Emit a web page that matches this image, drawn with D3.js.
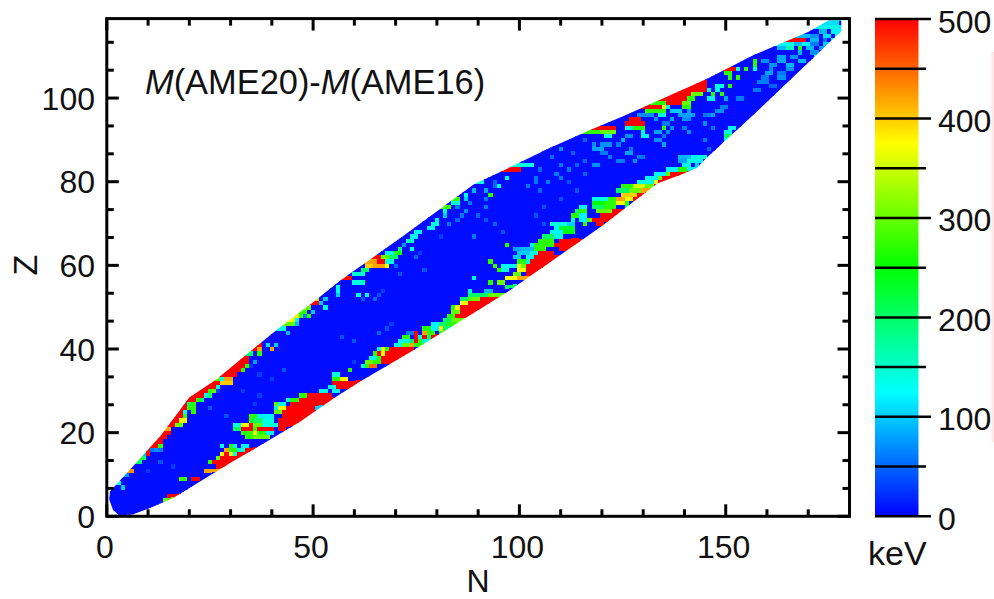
<!DOCTYPE html>
<html><head><meta charset="utf-8">
<script src="https://cdn.jsdelivr.net/npm/d3@7"></script>
<style>html,body{margin:0;padding:0;background:#fff}svg{display:block}text{font-family:"Liberation Sans",Arial,sans-serif;fill:#111}</style>
</head><body><svg id="c" width="994" height="599"></svg>
<script>
const xTicksMajor=[0,50,100,150];
const yTicksMajor=[0,20,40,60,80,100];
const cbTicksMajor=[0,100,200,300,400,500];
const cbTicksMinor=[50,150,250,350,450];
const colorStops=["#0000ff","#00ffff","#00ff00","#ffff00","#ff0000"];
const stopValues=[0,125,250,375,500];
const baseValue=4;
const outline=[[1.5,1.5],[0.6,4],[0.8,6],[5,10.5],[13,19.2],[20,28.4],[26.7,32.8],[34,38.8],[42,45.2],[50,51.2],[56.6,56.4],[71,66.4],[89,79.4],[96,82.6],[106.8,87.8],[117,92.3],[125,95.6],[145.5,104.6],[156.8,110.3],[170,115.8],[175,118.6],[178,118.6],[178,116],[157.7,96.9],[145,85.4],[143,83.3],[140,82],[133.4,79.6],[120,69.4],[97,53.6],[74,39.5],[61.5,32.3],[55,28.2],[47,22.7],[39,18],[30.7,13.2],[22.7,8.4],[16,4.3],[10,1.8],[6.4,0.5],[3,0.3]];
// row extent of measured nuclei, index 0 is Z=1
const nMin=[3,2,1,1,1,1,2,3,4,5,6,7,8,8,9,10,11,12,13,14,15,15,16,17,18,18,19,20,22,23,25,26,27,29,30,31,32,33,34,36,37,39,40,41,42,43,45,46,47,49,50,51,52,53,55,56,58,59,61,62,64,65,67,68,70,71,72,74,75,76,78,79,81,82,83,85,86,87,89,91,93,96,99,102,104,105,106,107,110,112,115,117,120,122,125,127,129,131,134,136,138,140,143,145,147,149,151,153,155,157,159,162,165,167,170,172,174,175];
const nMax=[7,10,12,15,17,18,20,21,23,25,27,28,30,32,33,35,37,38,40,42,44,45,47,48,50,51,53,54,56,57,59,60,62,64,66,67,69,71,73,75,76,78,79,81,82,84,85,87,89,90,92,93,95,97,98,99,101,102,103,105,106,107,109,110,111,112,114,115,116,121,122,124,125,127,128,129,130,131,133,135,138,140,142,144,145,146,147,149,150,151,152,154,155,156,157,158,159,160,162,163,164,165,166,167,168,169,170,171,172,173,174,175,176,177,177,177,178,178];
// [Z, first N, last N, keV]
const hotRuns=[
[11,5,6,430],[13,7,8,200],[14,8,9,270],[15,9,10,500],[16,10,11,500],[16,12,12,70],[17,11,12,500],[17,13,13,270],[18,12,13,500],[19,13,14,500],[20,14,15,500],[21,15,15,420],[22,15,16,500],[22,17,17,300],[23,16,17,500],[23,18,18,370],[24,17,18,500],[25,18,18,500],[26,18,19,500],[26,20,21,270],[27,19,19,500],[27,20,21,270],[28,20,21,500],[28,22,22,270],[29,22,23,500],[29,24,24,140],[30,23,24,500],[30,25,25,270],[30,26,26,300],[31,25,26,500],[31,27,27,140],[32,26,27,500],[32,28,30,400],[33,27,27,300],[33,28,28,140],[33,29,30,420],[34,29,31,500],[35,30,32,500],[35,33,33,270],[36,31,33,500],[36,34,34,270],[37,32,34,500],[38,33,34,500],[39,34,35,200],[40,36,36,500],[40,37,37,420],[41,37,37,500],[45,42,43,140],[46,43,45,300],[47,45,45,370],[48,46,46,370],[48,47,47,270],[48,48,48,140],[48,49,49,270],[49,47,48,270],[50,48,49,300],[51,50,51,500],[52,51,51,400],
[5,15,17,500],[4,14,15,300],[9,18,19,280],[9,21,22,500],[11,24,27,420],
[12,27,30,500],[13,26,31,500],[13,25,25,270],[14,27,27,300],[14,28,33,500],[15,28,28,370],[15,29,29,500],[15,30,30,370],[15,31,31,140],[15,32,35,500],[16,29,29,420],[16,30,31,270],[16,32,33,140],[16,34,36,500],[17,28,28,140],[17,30,30,270],[17,31,31,120],[17,33,34,120],
[19,34,35,270],[19,36,39,300],[20,33,35,270],[20,36,36,370],[20,37,38,270],[20,39,40,120],[21,33,40,500],[21,31,32,200],[21,36,36,270],[22,31,32,140],[22,33,34,370],[22,35,35,500],[22,36,37,300],[22,38,41,140],[23,35,35,270],[23,36,37,200],[23,38,40,140],[24,35,36,270],[24,37,40,120],
[21,42,43,500],[22,42,45,500],[23,42,47,500],[24,43,48,500],[25,43,50,500],[26,44,51,500],[27,45,53,500],[28,47,54,500],[29,49,54,500],[26,51,51,100],[27,42,43,140],[27,41,41,300],[26,41,41,140],[26,42,43,370],[28,45,46,270],[29,47,48,270],[28,44,44,140],[25,41,42,300],
[30,52,53,140],[30,55,56,120],[31,54,55,140],[31,56,60,500],[32,55,62,500],[33,55,56,270],[33,57,58,370],[34,55,56,140],
[35,59,59,270],[35,64,67,4],[36,62,62,140],[36,63,63,270],[36,64,65,450],[37,63,64,300],[37,65,66,270],[37,67,70,500],[38,64,65,140],[38,66,66,270],[38,67,71,500],[39,65,65,270],[39,66,66,500],[39,67,67,370],[39,68,73,500],[40,66,66,140],[40,67,67,370],[40,68,68,270],[40,69,74,500],[41,70,71,140],[41,72,73,300],[41,74,74,420],[41,75,76,270],[42,71,73,140],[42,74,74,200],[42,75,75,500],[42,76,76,270],[42,77,78,140],[43,72,73,270],[43,75,75,500],[43,76,76,140],[43,77,77,500],[43,78,78,200],[43,79,79,500],[43,80,81,270],[44,73,74,60],[44,75,75,500],[44,77,77,420],[44,78,79,270],[44,81,82,270],[45,77,78,270],[45,79,80,120],[45,81,81,370],[45,82,82,200],[46,79,80,120],[46,81,82,200],
[46,83,84,270],[46,85,85,400],[47,82,83,200],[47,84,85,300],[47,86,86,500],[48,83,84,270],[48,85,87,500],[49,84,85,300],[49,86,89,500],[50,85,85,370],[50,86,91,500],[50,84,84,270],[51,86,87,370],[51,88,92,500],[52,86,87,200],[52,88,90,300],[52,91,94,500],[53,88,92,200],[53,93,95,300],
[54,88,88,140],[54,92,93,90],[56,93,93,270],[57,89,89,140],[55,97,98,200],[56,95,96,300],[57,97,99,370],[58,99,100,300],[57,100,101,420],
[58,102,103,500],[59,102,105,500],[60,102,106,500],[61,103,108,500],[62,104,109,500],[63,105,108,500],[60,100,100,370],[60,101,101,300],[59,100,101,370],[61,100,101,270],[61,102,102,140],[62,99,100,100],[62,102,103,120],[63,100,102,100],[63,103,104,140],[64,100,103,90],[64,104,106,270],[65,104,108,270],[65,103,103,120],[66,105,108,270],[67,106,108,200],[59,96,97,140],[60,94,94,270],[60,96,96,140],[61,93,93,270],[60,97,99,120],[59,95,95,270],[65,97,97,270],[64,99,100,80],
[64,110,113,500],[65,109,113,500],[66,110,112,500],[67,109,110,140],[68,108,110,120],[68,111,113,250],[69,110,113,230],[69,109,109,120],[70,108,111,140],[70,112,113,100],[71,113,113,140],[72,113,114,270],[72,115,116,120],[73,115,116,270],[73,114,114,200],[71,115,116,120],[70,116,116,270],[71,118,119,500],[71,117,117,300],[74,115,116,120],
[70,119,120,500],[71,120,123,500],[72,120,124,500],[73,123,125,500],[73,119,122,300],[74,118,120,200],[74,121,123,270],[75,118,120,250],[75,121,123,270],[75,124,125,370],[75,126,126,270],[76,118,121,140],[76,122,123,270],[76,124,125,420],[76,126,127,370],[76,128,132,500],[75,128,131,500],[77,129,130,500],[77,125,128,400],[77,131,132,400],[78,124,126,200],[78,127,129,300],[78,130,131,420],[78,132,133,500],[79,125,127,270],[79,128,130,350],[79,131,132,300],[79,133,136,500],[80,129,132,140],[80,133,133,370],[80,134,137,500],[81,131,133,120],[81,134,134,300],[81,135,138,500],[82,133,135,120],[82,136,136,300],[82,137,140,500],[83,136,138,120],[83,139,140,270],[83,141,142,120],[74,126,127,200],
[84,140,141,120],[84,143,143,100],[85,141,142,140],[85,143,144,120],[86,143,145,140],
[53,61,61,140],[53,63,63,140],[55,56,56,140],[54,56,56,140],[53,56,56,100],[57,58,59,500],[56,60,61,140],[56,62,62,160],[58,60,62,150],[59,62,63,200],[60,63,64,400],[60,65,67,420],[60,68,68,370],[61,64,65,420],[61,66,67,500],[61,68,69,140],[62,65,66,500],[62,67,68,300],[62,69,70,200],[63,68,69,140],[63,70,71,260],[64,71,71,200],[64,74,74,140],[65,72,72,70],[66,73,74,150],[67,74,75,120],[68,75,76,120],[69,78,79,120],[70,79,80,140],[71,80,80,120],[72,82,82,100],[73,82,82,160],[74,82,83,280],[75,84,85,150],[76,85,85,270],[76,87,87,100],[77,87,87,130],[77,93,93,270],[78,89,89,90],[79,95,95,140],[80,91,91,140],[81,97,97,140],[67,89,89,60],[65,97,97,270],[83,98,100,500],[84,102,103,140],
[92,117,119,270],[93,119,123,500],[92,120,123,300],[91,121,122,140],[93,117,118,270],[94,126,130,500],[95,127,129,500],[93,126,127,140],[93,128,129,270],[93,130,130,270],[92,130,130,120],[91,130,131,120],[93,135,135,270],[96,129,132,70],
[97,131,132,270],[98,131,134,500],[97,133,135,270],[99,136,139,500],[96,134,135,140],[100,135,140,500],[99,134,135,270],[98,135,135,370],[98,140,141,270],[98,136,136,140],[99,140,141,300],[100,141,142,270],[101,137,141,500],[101,142,144,300],[102,138,145,500],[102,146,146,120],[103,141,145,500],[104,143,145,500],[97,137,139,100],[96,139,142,80],
[107,150,152,500],[106,150,151,270],[105,151,151,270],[105,153,153,270],[107,153,153,140],[107,155,155,270],[108,157,157,270],[109,157,157,270],[107,157,157,140],[103,148,149,140],[103,151,151,270],[101,147,147,270],[101,149,149,270],[102,148,148,120],[100,146,147,120],[100,150,150,80],
[114,166,169,500],[115,170,170,90],[113,165,166,130],[113,167,168,90],[113,169,170,120],[112,163,164,90],[112,165,166,160],[112,168,168,270],[112,170,171,90],
[118,175,177,110],[117,174,175,120],[117,176,177,140],[117,178,178,110],[116,173,174,90],[116,176,178,120],[115,171,172,70],[115,174,175,110],[115,177,177,120],[114,171,172,90],[114,174,174,60],[114,176,177,150],[113,171,172,60],[113,174,175,100],[112,173,175,80],[111,168,168,90],[111,171,172,70],[110,163,164,80],[110,166,167,70],[110,172,172,120],[109,159,160,70],[109,163,164,80],[109,168,169,90],[108,161,162,70],[108,165,166,90],[107,161,161,70],[107,165,166,70],[106,160,161,80],[106,163,164,60],[105,159,160,60],[105,163,164,70],[104,158,160,60],[103,161,162,50],[102,157,158,60],[100,153,154,60],
[93,151,152,120],[92,150,151,140],[91,150,152,200],[91,153,153,100],[90,150,151,120],[90,152,152,260],[89,151,151,130],
[86,142,142,120],[86,139,141,90],[85,139,140,80],
[89,135,135,80],[90,133,134,70],[91,126,127,70],[90,125,125,90],[89,120,122,70],[88,118,120,80],[89,118,118,70],[87,120,121,60],[84,118,119,70],[85,124,125,60],[86,129,130,60],[87,126,127,80],[91,135,135,60],[92,136,136,70],[92,133,134,80],[94,135,136,60],[95,140,141,70],[96,145,146,60],[97,148,149,70],[98,149,150,60]
];
// single lighter cells scattered through the band: [Z, N, keV]
const scatter=[
[8,3,130],[9,3,150],[7,4,100],[10,5,70],[14,8,270],[14,9,200],[13,7,120],[15,9,90],[17,13,270],[16,11,60],[16,13,60],[13,13,40],[12,16,30],[11,10,30],
[25,19,140],[24,19,270],[23,19,370],[22,18,300],[27,20,200],[25,21,270],[26,25,40],[28,23,200],[29,25,200],[30,27,30],[37,36,80],[39,37,270],[40,40,420],[41,39,110],[41,41,100],[44,44,90],[48,48,60],[49,50,100],[50,53,120],[47,46,120],[46,46,90],[51,52,100],[52,53,100],
[36,35,30],[34,37,30],[35,43,40],[33,40,30],[30,33,30],[29,37,30],[27,36,30],[24,29,40],
[37,60,30],[42,60,40],[43,57,40],[44,66,50],[45,68,40],[46,69,30],[52,62,40],[53,66,40],[52,65,50],[54,67,30],[58,71,40],[60,70,50],[62,75,50],[63,76,30],[59,77,40],[67,81,30],[70,83,60],[72,86,60],[71,85,50],[73,87,70],[74,85,60],[75,88,60],[76,92,60],[74,92,60],[78,92,80],[79,94,50],[80,94,50],[72,90,50],[71,92,40],[70,94,50],[68,96,40],
[81,104,60],[80,104,60],[80,107,60],[81,110,60],[79,102,60],[78,105,50],[82,109,60],[83,112,60],[84,110,60],[84,114,50],[83,105,50],
[86,108,50],[88,110,70],[87,113,50],[85,116,50],[82,116,50],[80,112,40],[78,114,40],[76,110,40],[74,106,40],[72,104,40],[70,106,40],[90,116,50],[89,124,60],[88,127,60],[86,122,60],[85,128,70],[93,137,70],[95,137,80],[95,133,70],[93,140,60],[92,141,70],[97,141,80],[96,147,80],[94,145,70],[93,147,60],[90,145,60],[88,146,50],[86,149,40]
];
const x=d3.scaleLinear().domain([0,180]).range([106.8,849.5]);
const y=d3.scaleLinear().domain([0,119]).range([516.3,18.6]);
const cb=d3.scaleLinear().domain([0,500]).range([516.3,19]);
const color=d3.scaleLinear().domain(stopValues).range(colorStops).clamp(true);
const svg=d3.select("#c");
const defs=svg.append("defs");
defs.append("filter").attr("id","soft").attr("x","-2%").attr("y","-2%").attr("width","104%").attr("height","104%")
  .append("feGaussianBlur").attr("stdDeviation",0.7);
const grad=defs.append("linearGradient").attr("id","cbg").attr("x1",0).attr("x2",0).attr("y1",1).attr("y2",0);
stopValues.forEach((v,i)=>grad.append("stop").attr("offset",v/500).attr("stop-color",colorStops[i]));
const pink=defs.append("linearGradient").attr("id","pink");
pink.append("stop").attr("offset",0).attr("stop-color","#fff");
pink.append("stop").attr("offset",1).attr("stop-color","#ffe2e2");
defs.append("clipPath").attr("id","frame").append("rect").attr("x",106.8).attr("y",18.6).attr("width",742.7).attr("height",497.7);
defs.append("clipPath").attr("id","band").append("path")
  .attr("d",d3.line().x(d=>x(d[0])).y(d=>y(d[1]))(outline)+"Z");

const values=new Map();
nMin.forEach((a,i)=>{for(let n=a;n<=nMax[i];n++)values.set((i+1)+"_"+n,baseValue);});
const put=(z,n,v)=>{const k=z+"_"+n;if(values.has(k))values.set(k,v);};
hotRuns.forEach(([z,a,b,v])=>{for(let n=a;n<=b;n++)put(z,n,v);});
scatter.forEach(([z,n,v])=>put(z,n,v));
// rows are padded by a few cells so that the outline, not the row end, shapes the edge
nMin.forEach((a,i)=>{const z=i+1,b=nMax[i];for(let p=1;p<=4;p++){values.set(z+"_"+(a-p),values.get(z+"_"+a));values.set(z+"_"+(b+p),values.get(z+"_"+b));}});
for(let n=0;n<=12;n++)values.set("0_"+n,baseValue);
for(let n=170;n<=182;n++)values.set("119_"+n,100);
const cells=[...values].map(([k,v])=>{const [z,n]=k.split("_").map(Number);return{z,n,v};});

const plot=svg.append("g").attr("clip-path","url(#frame)").append("g").attr("filter","url(#soft)").append("g").attr("clip-path","url(#band)");
plot.selectAll("rect").data(cells).join("rect")
  .attr("x",d=>x(d.n-0.5)).attr("y",d=>y(d.z+0.5))
  .attr("width",x(1)-x(0)+0.4).attr("height",y(0)-y(1)+0.4)
  .attr("fill",d=>color(d.v)).attr("shape-rendering","crispEdges");

function ticks(g,vals,len,dir,horizontal,pos,sw){
  g.selectAll(null).data(vals).join("line")
   .attr("x1",d=>horizontal?x(d):pos).attr("x2",d=>horizontal?x(d):pos+dir*len)
   .attr("y1",d=>horizontal?pos:y(d)).attr("y2",d=>horizontal?pos+dir*len:y(d))
   .attr("stroke","#000").attr("stroke-width",sw);
}
const a=svg.append("g");
const xMinor=d3.range(0,181,10).filter(d=>d%50!==0);
const yMinor=d3.range(0,120,20/3).filter((d,i)=>i%3!==0);
ticks(a,xMinor,7,-1,true,516.3,3);ticks(a,xMinor,7,1,true,18.6,3);
ticks(a,xTicksMajor,12,-1,true,516.3,3);ticks(a,xTicksMajor,12,1,true,18.6,3);
ticks(a,yMinor,7,1,false,106.8,3);ticks(a,yMinor,7,-1,false,849.5,3);
ticks(a,yTicksMajor,12,1,false,106.8,3);ticks(a,yTicksMajor,12,-1,false,849.5,3);
a.append("rect").attr("x",106.8).attr("y",18.6).attr("width",742.7).attr("height",497.7).attr("fill","none").attr("stroke","#000").attr("stroke-width",3);
a.selectAll(null).data(xTicksMajor).join("text").attr("x",d=>x(d)-2).attr("y",558).attr("text-anchor","middle").attr("font-size",32).text(d=>d);
a.selectAll(null).data(yTicksMajor).join("text").attr("x",95).attr("y",d=>y(d)+11.5).attr("text-anchor","end").attr("font-size",32).text(d=>d);
a.append("text").attr("x",478).attr("y",592).attr("text-anchor","middle").attr("font-size",32).text("N");
a.append("text").attr("transform","translate(37,265) rotate(-90)").attr("text-anchor","middle").attr("font-size",34).text("Z");
const title=a.append("text").attr("x",145).attr("y",94).attr("font-size",34.4);
title.append("tspan").attr("font-style","italic").text("M");
title.append("tspan").text("(AME20)-");
title.append("tspan").attr("font-style","italic").text("M");
title.append("tspan").text("(AME16)");

const c=svg.append("g");
c.append("rect").attr("x",990).attr("y",52).attr("width",4).attr("height",390).attr("fill","url(#pink)");
c.append("rect").attr("x",875).attr("y",19).attr("width",43.5).attr("height",497.3).attr("fill","url(#cbg)");
c.selectAll(null).data(cbTicksMajor).join("line").attr("x1",875).attr("x2",931).attr("y1",d=>cb(d)).attr("y2",d=>cb(d)).attr("stroke","#000").attr("stroke-width",2.5);
c.selectAll(null).data(cbTicksMinor).join("line").attr("x1",875).attr("x2",926).attr("y1",d=>cb(d)).attr("y2",d=>cb(d)).attr("stroke","#000").attr("stroke-width",2.5);
c.selectAll(null).data(cbTicksMajor).join("text").attr("x",938).attr("y",d=>cb(d)+13.5).attr("font-size",32).text(d=>d);
c.append("text").attr("x",868).attr("y",565).attr("font-size",34).text("keV");
</script></body></html>
